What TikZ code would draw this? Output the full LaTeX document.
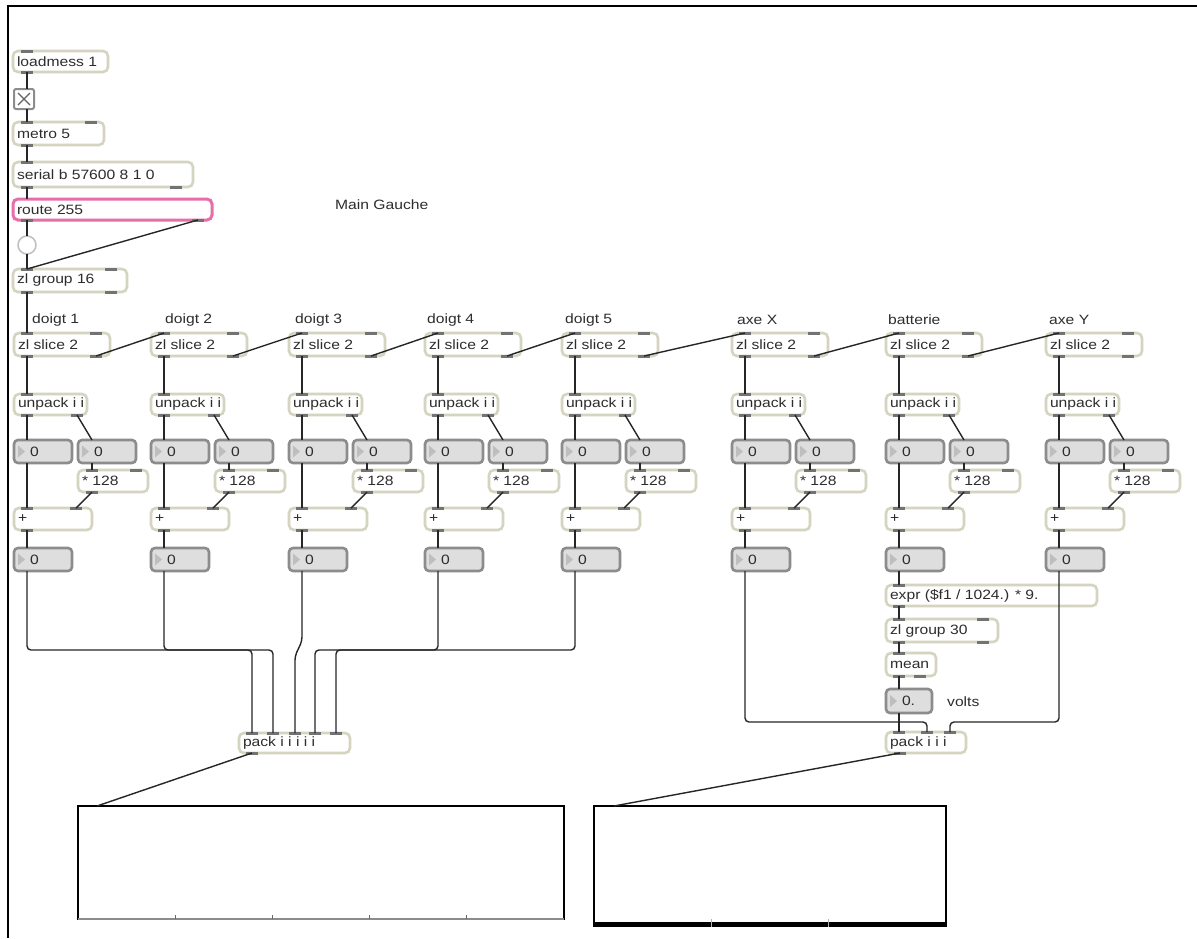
\documentclass[tikz,border=0pt]{standalone}
\usepackage{fontspec}
\setmainfont{Liberation Sans}[FakeStretch=1.16]
\usetikzlibrary{calc}
\definecolor{objb}{RGB}{212,212,192}
\definecolor{iocol}{RGB}{115,115,115}
\definecolor{nfill}{RGB}{222,222,222}
\definecolor{nbord}{RGB}{140,140,140}
\definecolor{tricol}{RGB}{190,190,190}
\definecolor{pinkb}{RGB}{230,110,170}
\definecolor{txt}{RGB}{45,45,45}
\tikzset{
 mx/.style={draw=objb, line width=2.6pt, rounded corners=5pt, fill=white, anchor=north west, inner sep=0pt, outer sep=0pt, text=txt, font=\fontsize{13.5}{14}\selectfont},
 nb/.style={mx, draw=nbord, fill=nfill, rounded corners=4pt},
 cord/.style={draw=black!85, line width=1.4pt, rounded corners=4pt},
 lbl/.style={anchor=west, inner sep=0pt, text=txt, font=\fontsize{13.5}{14}\selectfont},
 disp/.style={draw=black, line width=1.5pt, anchor=north west, inner sep=0pt, outer sep=0pt, fill=white},
}
\newcommand\mobj[7][]{\node[mx,minimum width=#5pt,minimum height=#6pt,#1] (#2) at (#3,#4) {\makebox[#5pt][l]{\hspace{4pt}#7}};}
\newcommand\nbx[6][]{\node[nb,minimum width=#5pt,minimum height=23pt,#1] (#2) at (#3,#4) {\makebox[#5pt][l]{\hspace{16pt}#6}};
 \fill[tricol] ($(#2.west)+(4,-6)$) -- ++(0,12) -- ++(7,-6) -- cycle;}
\newcommand\ip[3]{\coordinate (#1-#2) at ($(#1.north west)+(#3,0)$);\fill[iocol] ($(#1-#2)+(-6,-1.5)$) rectangle ($(#1-#2)+(6,1.5)$);}
\newcommand\op[3]{\coordinate (#1-#2) at ($(#1.south west)+(#3,0)$);\fill[iocol] ($(#1-#2)+(-6,-1.5)$) rectangle ($(#1-#2)+(6,1.5)$);}
\newcommand\ipn[3]{\coordinate (#1-#2) at ($(#1.north west)+(#3,0)$);}
\newcommand\opn[3]{\coordinate (#1-#2) at ($(#1.south west)+(#3,0)$);}
\begin{document}
\begin{tikzpicture}[x=1pt,y=-1pt]
\useasboundingbox[fill=white] (0,0) rectangle (1197,938);
\draw[line width=2pt] (8,938) -- (8,6) -- (1197,6);

% top chain
\mobj{lm}{13}{51}{95}{21}{loadmess 1}
\ip{lm}{i1}{14} \op{lm}{o1}{14}
\node[draw=nbord, line width=2pt, fill=white, rounded corners=2pt, anchor=north west, minimum size=20pt, inner sep=0pt, outer sep=0pt] (tog) at (14,89) {};
\draw[nbord!70!black, line width=1.2pt] ($(tog.north west)+(4,4)$) -- ($(tog.south east)+(-4,-4)$);
\draw[nbord!70!black, line width=1.2pt] ($(tog.north east)+(-4,4)$) -- ($(tog.south west)+(4,-4)$);
\ipn{tog}{i1}{13} \opn{tog}{o1}{13}
\mobj{met}{13}{122}{91}{23}{metro 5}
\ip{met}{i1}{14} \ip{met}{i2}{78} \op{met}{o1}{14}
\mobj{ser}{13}{162}{180}{25}{serial b 57600 8 1 0}
\ip{ser}{i1}{14} \op{ser}{o1}{14} \op{ser}{o2}{163}
\mobj[draw=pinkb,line width=3pt]{rt}{13}{199}{199}{21}{route 255}
\op{rt}{o1}{14} \op{rt}{o2}{185}
\node[circle, draw=black!25, line width=1.5pt, fill=white, minimum size=18pt, inner sep=0pt, outer sep=0pt] (bng) at (27,245) {};
\mobj{zg}{13}{269}{114}{23}{zl group 16}
\ip{zg}{i1}{14} \ip{zg}{i2}{98} \op{zg}{o1}{14} \op{zg}{o2}{98}
\node[lbl] (mg) at (335,205) {Main Gauche};

\draw[cord] (lm-o1) -- (tog-i1);
\draw[cord] (tog-o1) -- (met-i1);
\draw[cord] (met-o1) -- (ser-i1);
\draw[cord] (ser-o1) -- (rt.north west -| ser-o1);
\draw[cord] (rt-o1) -- (bng.north);
\draw[cord] (bng.south) -- (zg-i1);
\draw[cord] (rt-o2) -- (zg-i1);

% columns
\foreach \i/\S/\lx/\lab in {1/27/32/doigt 1,2/164/165/doigt 2,3/302/295/doigt 3,4/438/427/doigt 4,5/575/565/doigt 5,6/745/737/axe X,7/899/888/batterie,8/1059/1049/axe Y}{
 \pgfmathsetmacro\L{\S-13}
 \node[lbl] (lab\i) at (\lx,320) {\lab};
 \mobj{zs\i}{\L}{333}{96}{23}{zl slice 2}
 \ip{zs\i}{i1}{13} \ip{zs\i}{i2}{82} \op{zs\i}{o1}{13} \op{zs\i}{o2}{82}
 \mobj{up\i}{\L}{394}{73}{21}{unpack i i}
 \ip{up\i}{i1}{13} \op{up\i}{o1}{13} \op{up\i}{o2}{63}
 \nbx{nl\i}{\L}{440}{58}{0}
 \ipn{nl\i}{i1}{13} \opn{nl\i}{o1}{13}
 \nbx{nr\i}{\L+64}{440}{58}{0}
 \ipn{nr\i}{i1}{14} \opn{nr\i}{o1}{14}
 \mobj{mu\i}{\L+64}{470}{70}{22}{* 128}
 \ip{mu\i}{i1}{14} \ip{mu\i}{i2}{58} \op{mu\i}{o1}{14}
 \mobj{pl\i}{\L}{508}{78}{22}{+}
 \ip{pl\i}{i1}{13} \ip{pl\i}{i2}{62} \op{pl\i}{o1}{13}
 \nbx{nb\i}{\L}{548}{58}{0}
 \ipn{nb\i}{i1}{13} \opn{nb\i}{o1}{13}
 \draw[cord] (zs\i-o1) -- (up\i-i1);
 \draw[cord] (up\i-o1) -- (nl\i-i1);
 \draw[cord] (up\i-o2) -- (nr\i-i1);
 \draw[cord] (nr\i-o1) -- (mu\i-i1);
 \draw[cord] (mu\i-o1) -- (pl\i-i2);
 \draw[cord] (nl\i-o1) -- (pl\i-i1);
 \draw[cord] (pl\i-o1) -- (nb\i-i1);
}
\draw[cord] (zg-o1) -- (zs1-i1);
\foreach \i/\j in {1/2,2/3,3/4,4/5,5/6,6/7,7/8}{
 \draw[cord] (zs\i-o2) -- (zs\j-i1);
}

% battery chain
\mobj{ex}{886}{585}{211}{21}{expr (\$f1 / 1024.) * 9.}
\ip{ex}{i1}{13} \op{ex}{o1}{13}
\mobj{zg3}{886}{619}{112}{23}{zl group 30}
\ip{zg3}{i1}{13} \ip{zg3}{i2}{97} \op{zg3}{o1}{13} \op{zg3}{o2}{97}
\mobj{mn}{886}{653}{50}{23}{mean}
\ip{mn}{i1}{13} \op{mn}{o1}{13} \op{mn}{o2}{34}
\nbx[minimum height=24pt]{n0}{886}{689}{46}{0.}
\ipn{n0}{i1}{13} \opn{n0}{o1}{13}
\node[lbl] (volts) at (947,702) {volts};
\mobj{pk3}{886}{732}{80}{21}{pack i i i}
\ip{pk3}{i1}{13} \ip{pk3}{i2}{41} \ip{pk3}{i3}{64} \op{pk3}{o1}{14}
\draw[cord] (nb7-o1) -- (ex-i1);
\draw[cord] (ex-o1) -- (zg3-i1);
\draw[cord] (zg3-o1) -- (mn-i1);
\draw[cord] (mn-o1) -- (n0-i1);
\draw[cord] (n0-o1) -- (pk3-i1);
\coordinate (busR) at (0,722);
\draw[cord] (nb6-o1) |- (pk3-i2 |- busR) -- (pk3-i2);
\draw[cord] (nb8-o1) |- (pk3-i3 |- busR) -- (pk3-i3);

% pack 5
\mobj{pk5}{239}{733}{111}{20}{pack i i i i i}
\ip{pk5}{i1}{13} \ip{pk5}{i2}{34} \ip{pk5}{i3}{56} \ip{pk5}{i4}{76} \ip{pk5}{i5}{97} \op{pk5}{o1}{13}
\coordinate (busL) at (0,650);
\coordinate (busJ) at (0,641);
\coordinate (busK) at (0,656);
\draw[cord] (nb1-o1) |- (pk5-i1 |- busL) -- (pk5-i1);
\draw[cord] (nb2-o1) |- (pk5-i2 |- busL) -- (pk5-i2);
\draw[cord] (nb3-o1) -- (nb3-o1 |- busJ) -- (pk5-i3 |- busK) -- (pk5-i3);
\draw[cord] (nb4-o1) |- (pk5-i4 |- busL) -- (pk5-i4);
\draw[cord] (nb5-o1) |- (pk5-i5 |- busL) -- (pk5-i5);

% displays
\node[disp, minimum width=486pt, minimum height=113pt] (d1) at (78,806) {};
\draw[black!45, line width=1.5pt] (d1.south west) -- (d1.south east);
\foreach \k in {1,2,3,4}{\draw[black!60, line width=0.8pt] ($(d1.south west)+(97.2*\k,0)$) -- ++(0,-4);}
\node[disp, minimum width=352pt, minimum height=120pt] (d2) at (594,806) {};
\draw[black, line width=4pt] ($(d2.south west)+(0,-2)$) -- ($(d2.south east)+(0,-2)$);
\foreach \k in {1,2}{\draw[white!70!black, line width=0.8pt] ($(d2.south west)+(117.3*\k,1)$) -- ++(0,-8);}
\coordinate (d1in) at ($(d1.north west)+(19,0)$);
\coordinate (d2in) at ($(d2.north west)+(20,0)$);
\draw[cord] (pk5-o1) -- (d1in);
\draw[cord] (pk3-o1) -- (d2in);
\end{tikzpicture}
\end{document}
